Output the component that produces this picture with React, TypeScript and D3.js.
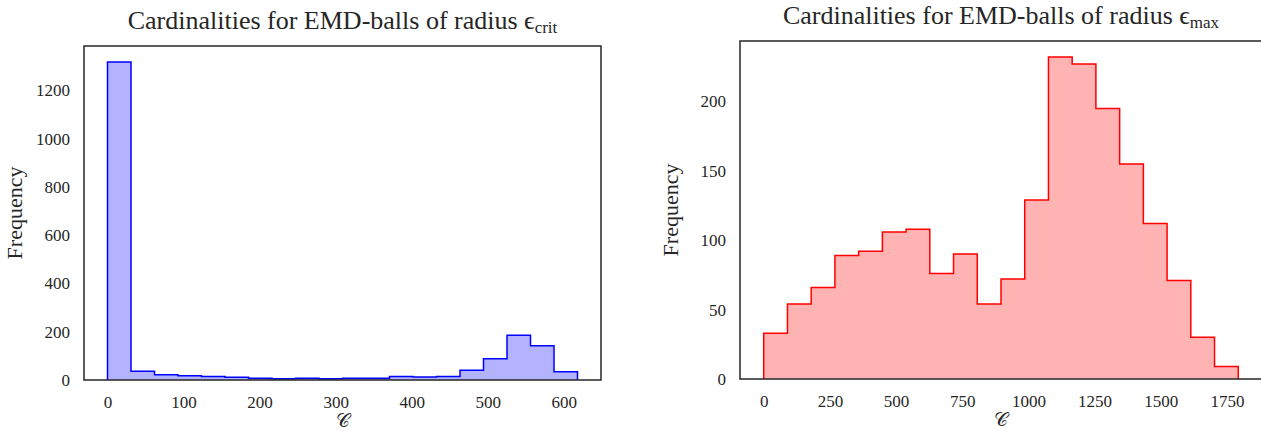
import React, { useEffect, useRef } from "react";
import * as d3 from "d3";

// counts per bin (20 bins each)
const critCounts = [1318, 36, 22, 18, 14, 11, 7, 5, 7, 5, 7, 7, 15, 12, 15, 40, 88, 185, 142, 34];
const critRange = [0, 618];
const critXTicks = [0, 100, 200, 300, 400, 500, 600];
const critYTicks = [0, 200, 400, 600, 800, 1000, 1200];

const maxCounts = [33, 54, 66, 89, 92, 106, 108, 76, 90, 54, 72, 129, 232, 227, 195, 155, 112, 71, 30, 9];
const maxRange = [0, 1793];
const maxXTicks = [0, 250, 500, 750, 1000, 1250, 1500, 1750];
const maxYTicks = [0, 50, 100, 150, 200];

const INK = "#262626";
const FONT = "Liberation Serif";

type Panel = {
  counts: number[];
  range: number[];
  xTicks: number[];
  yTicks: number[];
  sub: string;
  fill: string;
  stroke: string;
  box: { left: number; right: number; top: number; bottom: number };
};

function drawPanel(svg: any, p: Panel) {
  const { left, right, top, bottom } = p.box;
  const n = p.counts.length;
  const edges = d3.range(n + 1).map((i) => p.range[0] + ((p.range[1] - p.range[0]) * i) / n);
  const pad = (p.range[1] - p.range[0]) * 0.05;
  const x = d3.scaleLinear().domain([p.range[0] - pad, p.range[1] + pad]).range([left, right]);
  const y = d3.scaleLinear().domain([0, d3.max(p.counts)! * 1.05]).range([bottom, top]);

  const g = svg.append("g");

  // step outline of the histogram
  const pts: [number, number][] = [[edges[0], 0]];
  p.counts.forEach((c, i) => {
    pts.push([edges[i], c]);
    pts.push([edges[i + 1], c]);
  });
  pts.push([edges[n], 0]);
  const line = d3.line<[number, number]>().x((d) => x(d[0])).y((d) => y(d[1]));
  g.append("path")
    .attr("d", line(pts))
    .attr("fill", p.fill)
    .attr("stroke", p.stroke)
    .attr("stroke-width", 1.5);

  // axes, no tick marks (seaborn white look)
  const xa = g.append("g")
    .attr("transform", `translate(0,${bottom})`)
    .call(d3.axisBottom(x).tickValues(p.xTicks).tickSize(0).tickPadding(19).tickFormat(d3.format("d")));
  const ya = g.append("g")
    .attr("transform", `translate(${left},0)`)
    .call(d3.axisLeft(y).tickValues(p.yTicks).tickSize(0).tickPadding(14).tickFormat(d3.format("d")));
  [xa, ya].forEach((a) => {
    a.attr("font-family", FONT).attr("font-size", 17);
    a.select(".domain").remove();
    a.selectAll("text").attr("font-family", FONT).attr("font-size", 17).attr("fill", INK);
  });
  xa.selectAll("text").attr("dy", "0.5em");

  g.append("rect")
    .attr("x", left)
    .attr("y", top)
    .attr("width", right - left)
    .attr("height", bottom - top)
    .attr("fill", "none")
    .attr("stroke", INK)
    .attr("stroke-width", 1.5);

  const cx = (left + right) / 2;
  const t = g.append("text")
    .attr("x", cx)
    .attr("y", top - 17)
    .attr("text-anchor", "middle")
    .attr("font-family", FONT)
    .attr("font-size", 26)
    .attr("fill", INK);
  t.append("tspan").text("Cardinalities for EMD-balls of radius ");
  t.append("tspan").text("ϵ");
  t.append("tspan").attr("dy", 4).attr("font-size", 17).text(p.sub);

  g.append("text")
    .attr("x", cx)
    .attr("y", bottom + 47)
    .attr("text-anchor", "middle")
    .attr("font-family", FONT)
    .attr("font-size", 19)
    .attr("fill", INK)
    .text("𝒞");

  g.append("text")
    .attr("transform", `translate(${left - 62},${(top + bottom) / 2}) rotate(-90)`)
    .attr("text-anchor", "middle")
    .attr("font-family", FONT)
    .attr("font-size", 22)
    .attr("fill", INK)
    .text("Frequency");
}

export default function App() {
  const ref = useRef<SVGSVGElement>(null);

  useEffect(() => {
    const svg = d3.select(ref.current);
    svg.selectAll("*").remove();
    drawPanel(svg, {
      counts: critCounts,
      range: critRange,
      xTicks: critXTicks,
      yTicks: critYTicks,
      sub: "crit",
      fill: "#b3b3ff",
      stroke: "#0000ff",
      box: { left: 84, right: 601, top: 46, bottom: 380 },
    });
    drawPanel(svg, {
      counts: maxCounts,
      range: maxRange,
      xTicks: maxXTicks,
      yTicks: maxYTicks,
      sub: "max",
      fill: "#ffb3b3",
      stroke: "#ff0000",
      box: { left: 740, right: 1262, top: 41, bottom: 379 },
    });
  }, []);

  return (
    <div style={{ position: "absolute", left: 0, top: 0 }}>
      <svg
        ref={ref}
        width={1261}
        height={431}
        style={{ display: "block", background: "#fff", fontFamily: FONT }}
      ></svg>
    </div>
  );
}
